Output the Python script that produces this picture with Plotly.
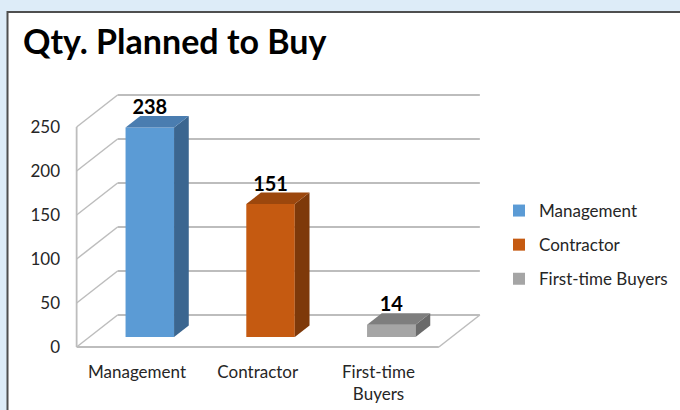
import plotly.graph_objects as go

# ---------------- data ----------------
CATEGORIES = ["Management", "Contractor", "First-time Buyers"]
VALUES = [238, 151, 14]
TICK_LABELS = ["Management", "Contractor", "First-time<br>Buyers"]
Y_TICKS = [0, 50, 100, 150, 200, 250]
TITLE = "Qty. Planned to Buy"

FRONT_COLORS = ["#5B9BD5", "#C55A11", "#A5A5A5"]
TOP_COLORS = ["#4A7DB0", "#9C470D", "#7E7E7E"]
SIDE_COLORS = ["#3B6690", "#7E390A", "#6A6A6A"]

# ---------------- geometry (pixels) ----------------
W, H = 680, 410
X0_PX = 137.0          # front-plane centre of first category
PX_PER_CAT = 120.75
Y0_PX = 347.0          # front-plane value 0
PX_PER_VAL = 0.88
DEPTH_SLOPE = 1.28     # horizontal px per vertical px of depth

PLOT_TOP, PLOT_BOTTOM = 78.0, 360.0
PLOT_LEFT, PLOT_RIGHT = 67.0, 488.0

WALL_DEPTH = 32.0      # depth of the back wall (vertical px)
BAR_POS_DEPTH = 10.0   # depth where bar front face sits
BAR_DEPTH = 11.5       # bar thickness
BAR_W_PX = 48.5
LABEL_DROP_PX = 3.0

def dx(px):
    return px * DEPTH_SLOPE / PX_PER_CAT

def dy(px):
    return px / PX_PER_VAL

x_range = [(PLOT_LEFT - X0_PX) / PX_PER_CAT, (PLOT_RIGHT - X0_PX) / PX_PER_CAT]
y_range = [(Y0_PX - PLOT_BOTTOM) / PX_PER_VAL, (Y0_PX - PLOT_TOP) / PX_PER_VAL]
PW = PLOT_RIGHT - PLOT_LEFT
PH = PLOT_BOTTOM - PLOT_TOP

def xp(px):
    return (px - PLOT_LEFT) / PW

def yp(py):
    return (PLOT_BOTTOM - py) / PH

n = len(CATEGORIES)
x_lo, x_hi = -0.5, n - 0.5
wall_dx, wall_dy = dx(WALL_DEPTH), dy(WALL_DEPTH)
bar_w = BAR_W_PX / PX_PER_CAT
bar_shift = dx(BAR_POS_DEPTH)
bar_base = dy(BAR_POS_DEPTH)
bdx, bdy = dx(BAR_DEPTH), dy(BAR_DEPTH)

FONT = "Lato"
GRID = "#BDBDBD"

fig = go.Figure()

shapes = []
# white panel with dark border
shapes.append(dict(type="rect", xref="paper", yref="paper", layer="below",
                   x0=xp(7.5), x1=xp(W + 20), y0=yp(H + 20), y1=yp(12),
                   fillcolor="white", line=dict(color="#4F4F4F", width=2)))
# back wall gridlines + left wall diagonals
for t in Y_TICKS:
    shapes.append(dict(type="line", xref="x", yref="y", layer="below",
                       x0=x_lo + wall_dx, x1=x_hi + wall_dx, y0=t + wall_dy, y1=t + wall_dy,
                       line=dict(color=GRID, width=1.8)))
    shapes.append(dict(type="line", xref="x", yref="y", layer="below",
                       x0=x_lo, x1=x_lo + wall_dx, y0=t, y1=t + wall_dy,
                       line=dict(color=GRID, width=1.5)))
# front left edge
shapes.append(dict(type="line", xref="x", yref="y", layer="below",
                   x0=x_lo, x1=x_lo, y0=0, y1=Y_TICKS[-1],
                   line=dict(color=GRID, width=1.8)))
# floor front edge and right edge
shapes.append(dict(type="line", xref="x", yref="y", layer="below",
                   x0=x_lo, x1=x_hi, y0=0, y1=0, line=dict(color=GRID, width=1.8)))
shapes.append(dict(type="line", xref="x", yref="y", layer="below",
                   x0=x_hi, x1=x_hi + wall_dx, y0=0, y1=wall_dy,
                   line=dict(color=GRID, width=1.5)))

for i, (cat, v) in enumerate(zip(CATEGORIES, VALUES)):
    fig.add_trace(go.Bar(
        x=[i], y=[v], base=[bar_base], width=bar_w, offset=-bar_w / 2 + bar_shift,
        marker=dict(color=FRONT_COLORS[i], line=dict(width=0)),
        name=cat, legendgroup=cat, showlegend=True, hoverinfo="skip"))
    xl = i - bar_w / 2 + bar_shift
    xr = xl + bar_w
    yb = bar_base
    yt = bar_base + v
    # side face
    fig.add_trace(go.Scatter(
        x=[xr, xr, xr + bdx, xr + bdx, xr], y=[yb, yt, yt + bdy, yb + bdy, yb],
        fill="toself", fillcolor=SIDE_COLORS[i], mode="lines", line=dict(width=0),
        showlegend=False, hoverinfo="skip"))
    # top face
    fig.add_trace(go.Scatter(
        x=[xl, xr, xr + bdx, xl + bdx, xl], y=[yt, yt, yt + bdy, yt + bdy, yt],
        fill="toself", fillcolor=TOP_COLORS[i], mode="lines", line=dict(width=0),
        showlegend=False, hoverinfo="skip"))
    # value label
    fig.add_trace(go.Scatter(
        x=[i + bar_shift], y=[yt + bdy - dy(LABEL_DROP_PX)], mode="text",
        text=[f"<b>{v}</b>"],
        textposition="top center", cliponaxis=False,
        textfont=dict(family=FONT, size=20, color="black"),
        showlegend=False, hoverinfo="skip"))

fig.update_layout(
    width=W, height=H,
    margin=dict(l=PLOT_LEFT, r=W - PLOT_RIGHT, t=PLOT_TOP, b=H - PLOT_BOTTOM, pad=0,
                autoexpand=False),
    paper_bgcolor="#DDECF8", plot_bgcolor="rgba(0,0,0,0)",
    barmode="overlay",
    shapes=shapes,
    font=dict(family=FONT, size=17, color="#262626"),
    title=dict(text=f"<b>{TITLE}</b>", x=23 / W, xanchor="left", xref="container",
               y=1 - 42 / H, yanchor="middle", yref="container",
               font=dict(family=FONT, size=34, color="black")),
    xaxis=dict(range=x_range, tickmode="array", tickvals=list(range(n)),
               ticktext=TICK_LABELS, showgrid=False, zeroline=False, showline=False,
               automargin=False,
               ticks="", tickfont=dict(size=17, color="#262626"), fixedrange=True),
    yaxis=dict(range=y_range, tickmode="array", tickvals=Y_TICKS,
               showgrid=False, zeroline=False, showline=False, ticks="",
               automargin=False, ticklabelstandoff=6,
               tickfont=dict(size=17, color="#262626"), fixedrange=True),
    legend=dict(x=499 / W, y=1 - 193 / H, xref="container", yref="container",
                xanchor="left", yanchor="top", tracegroupgap=9,
                font=dict(size=17, color="#262626"), bgcolor="rgba(0,0,0,0)"),
    showlegend=True,
)

fig.write_html("out.html", config={"displayModeBar": False},
               post_script="document.body.style.margin='0';document.body.style.overflow='hidden';")
